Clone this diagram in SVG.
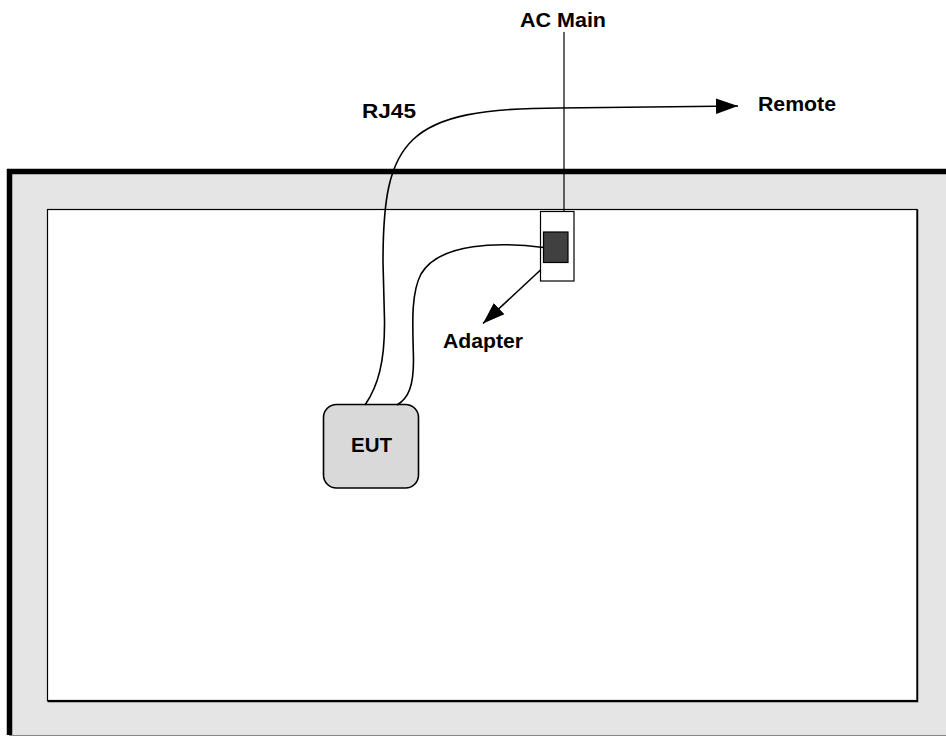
<svg xmlns="http://www.w3.org/2000/svg" width="946" height="737" viewBox="0 0 946 737">
<defs>
<style>
.lbl{font-family:"Liberation Sans",Arial,sans-serif;font-weight:bold;font-size:19.5px;fill:#000}
.wire{fill:none;stroke:#000;stroke-width:1.6}
</style>
<marker id="ah" viewBox="0 0 10 10" refX="10" refY="5" markerWidth="10" markerHeight="10" markerUnits="userSpaceOnUse" orient="auto">
<path d="M0,0 L10,5 L0,10 z" fill="#000"/>
</marker>
<marker id="ahb" viewBox="0 0 10 10" refX="10" refY="5" markerWidth="22" markerHeight="22" markerUnits="userSpaceOnUse" orient="auto">
<path d="M0,1.5 L10,5 L0,8.5 z" fill="#000"/>
</marker>
</defs>
<rect width="946" height="737" fill="#fff"/>
<g id="room">
<rect x="9" y="171" width="940" height="564.5" fill="#e5e5e5"/>
<line x1="9" y1="735.5" x2="946" y2="735.5" stroke="#888" stroke-width="1"/>
<path d="M9.5,735 L9.5,171.5 L946,171.5" fill="none" stroke="#000" stroke-width="5.5"/>
<rect x="47.5" y="209.5" width="869.5" height="491" fill="#fff" stroke="#000" stroke-width="1.2"/>
<path d="M917.5,209.5 L917.5,701.5 L47.5,701.5" fill="none" stroke="#000" stroke-width="1.5"/>
</g>
<g id="socket">
<rect x="540.5" y="211.5" width="33.5" height="69.5" fill="#fff" stroke="#000" stroke-width="1.2"/>
<rect x="543.5" y="232" width="24.5" height="30.5" fill="#404040" stroke="#000" stroke-width="1.2"/>
</g>
<g id="eut">
<rect x="323.5" y="404.5" width="95" height="83.5" rx="13" ry="13" fill="#d9d9d9" stroke="#000" stroke-width="1.6"/>
<text class="lbl" x="351" y="451.5" textLength="41" lengthAdjust="spacingAndGlyphs">EUT</text>
</g>
<g id="connectors">
<line x1="564" y1="32" x2="564" y2="211.5" stroke="#000" stroke-width="1.2"/>
<path class="wire" d="M365,405 C378,386 385,362 384.5,320 L383,262 C383,140 405,108 560,108 L738,106" marker-end="url(#ahb)"/>
<path class="wire" d="M543.5,247.5 C500,242 440,242 421,274 C410,295 413,330 413.5,360 C413.5,385 409,398 397,405"/>
<line x1="540.5" y1="270" x2="483" y2="323.5" stroke="#000" stroke-width="1.6" marker-end="url(#ahb)"/>
</g>
<g id="labels">
<text class="lbl" x="520" y="26.5" textLength="86" lengthAdjust="spacingAndGlyphs">AC Main</text>
<text class="lbl" x="362" y="118" textLength="54" lengthAdjust="spacingAndGlyphs">RJ45</text>
<text class="lbl" x="758" y="111" textLength="78" lengthAdjust="spacingAndGlyphs">Remote</text>
<text class="lbl" x="443" y="348" textLength="80" lengthAdjust="spacingAndGlyphs">Adapter</text>
</g>
</svg>
